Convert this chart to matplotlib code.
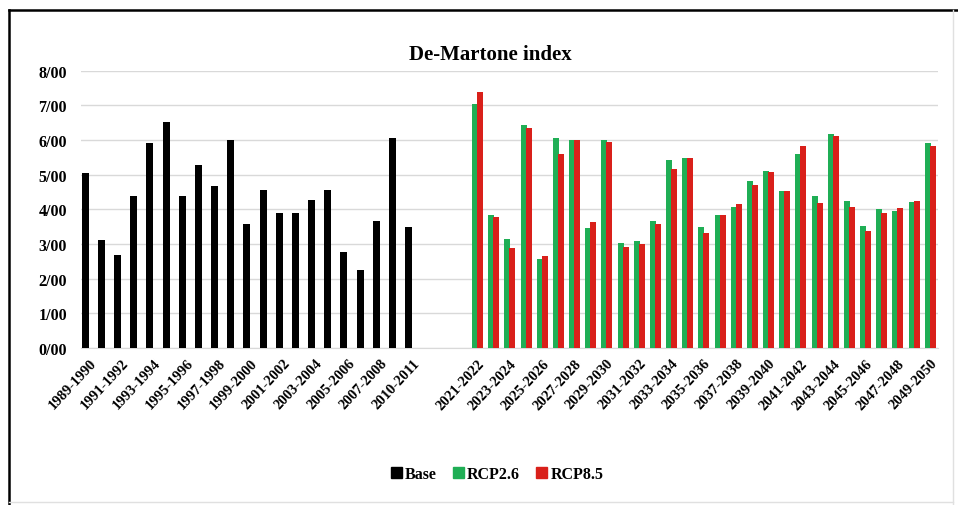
import numpy as np
import matplotlib.pyplot as plt
from matplotlib.lines import Line2D
from matplotlib.patches import Patch

# base period (one season is missing in the source series)
base_labels = [f"{y}-{y + 1}" for y in range(1989, 2008)] + ["2008-2009", "2010-2011"]
base_values = [5.04, 3.12, 2.68, 4.39, 5.90, 6.51, 4.39, 5.28, 4.66, 6.00, 3.58,
               4.56, 3.89, 3.89, 4.27, 4.56, 2.76, 2.25, 3.65, 6.05, 3.50]

# future period
rcp_labels = [f"{y}-{y + 1}" for y in range(2021, 2050)]
rcp26 = [7.04, 3.85, 3.14, 6.43, 2.57, 6.07, 6.00, 3.46, 6.00, 3.03, 3.09, 3.66,
         5.42, 5.47, 3.48, 3.85, 4.06, 4.83, 5.10, 4.52, 5.60, 4.39, 6.17, 4.25,
         3.53, 4.01, 3.94, 4.20, 5.90]
rcp85 = [7.38, 3.77, 2.88, 6.36, 2.66, 5.60, 6.00, 3.63, 5.93, 2.90, 3.01, 3.57,
         5.16, 5.47, 3.32, 3.85, 4.15, 4.71, 5.07, 4.54, 5.82, 4.18, 6.11, 4.08,
         3.38, 3.89, 4.03, 4.25, 5.84]

n_blank = 3
categories = base_labels + [""] * n_blank + rcp_labels

c_base = "black"
c_26 = "#1fae55"
c_85 = "#d9201a"
font = "Liberation Serif"

fig = plt.figure(figsize=(9.58, 5.06), dpi=100)
ax = fig.add_axes([81 / 958, 1 - 349 / 506, (938 - 81) / 958, (349 - 71.7) / 506])

xb = np.arange(len(base_values))
xr = np.arange(len(rcp26)) + len(base_values) + n_blank

ax.bar(xb - 0.24, base_values, width=0.43, color=c_base, zorder=3)
ax.bar(xr - 0.13, rcp26, width=0.37, color=c_26, zorder=3)
ax.bar(xr + 0.18, rcp85, width=0.37, color=c_85, zorder=4)

ax.set_xlim(-0.5, len(categories) - 0.5)
ax.set_ylim(0, 8)
ax.set_yticks(range(0, 9))
ax.set_yticklabels([f"{v}/00" for v in range(0, 9)], fontfamily=font,
                   fontweight="bold", fontsize=11.5)
ticks = list(range(0, len(categories), 2))
ax.set_xticks(ticks)
ax.set_xticklabels([categories[i] for i in ticks], rotation=47, ha="right",
                   rotation_mode="anchor", fontfamily=font, fontweight="bold",
                   fontsize=10.5)
ax.tick_params(axis="both", length=0)
ax.tick_params(axis="y", pad=10)
ax.tick_params(axis="x", pad=6)
ax.grid(axis="y", color="#d9d9d9", linewidth=1, zorder=0)
for s in ["top", "right", "left"]:
    ax.spines[s].set_visible(False)
ax.spines["bottom"].set_color("#d9d9d9")

fig.text(490 / 958, 1 - 55 / 506, "De-Martone index", ha="center", va="center",
         fontfamily=font, fontweight="bold", fontsize=15)

handles = [Patch(color=c_base), Patch(color=c_26), Patch(color=c_85)]
fig.legend(handles, ["Base", "RCP2.6", "RCP8.5"], loc="center",
           bbox_to_anchor=(497 / 958, 1 - 475 / 506), ncol=3, frameon=False,
           handlelength=0.7, handleheight=0.7, handletextpad=0.2,
           columnspacing=1.0, prop={"family": font, "weight": "bold", "size": 11.5})

# outer frame of the screenshot
fig.add_artist(Line2D([9 / 958, 1], [1 - 11 / 506] * 2, color="black", lw=1.8))
fig.add_artist(Line2D([9 / 958] * 2, [0, 1 - 11 / 506], color="black", lw=1.8))
fig.add_artist(Line2D([953 / 958] * 2, [0, 1 - 11 / 506], color="#e0e0e0", lw=1))
fig.add_artist(Line2D([9 / 958, 953 / 958], [1 - 503 / 506] * 2, color="#e0e0e0", lw=1))

fig.savefig("out.png", dpi=100)
